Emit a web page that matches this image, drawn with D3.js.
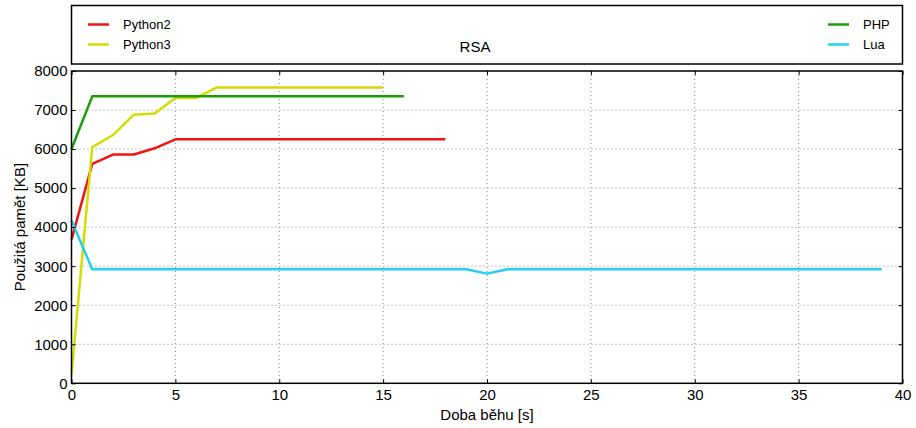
<!DOCTYPE html>
<html><head><meta charset="utf-8">
<script src="https://cdn.jsdelivr.net/npm/d3@7"></script>
<style>body{margin:0;background:#fff}svg{display:block}text{font-family:"Liberation Sans",Arial,sans-serif;fill:#000}</style>
</head><body><svg id="c" width="916" height="428"></svg>
<script>
const title = "RSA";
const xLabel = "Doba běhu [s]";
const yLabel = "Použitá pamět [KB]";
const xTicks = [0,5,10,15,20,25,30,35,40];
const yTicks = [0,1000,2000,3000,4000,5000,6000,7000,8000];

const python2X = [0,1,2,3,4,5,6,7,8,9,10,11,12,13,14,15,16,17,18];
const python2Y = [3680,5620,5860,5860,6020,6250,6250,6250,6250,6250,6250,6250,6250,6250,6250,6250,6250,6250,6250];
const python3X = [0,1,2,3,4,5,6,7,8,9,10,11,12,13,14,15];
const python3Y = [230,6050,6360,6880,6910,7310,7310,7580,7580,7580,7580,7580,7580,7580,7580,7580];
const phpX = [0,1,2,3,4,5,6,7,8,9,10,11,12,13,14,15,16];
const phpY = [6000,7350,7350,7350,7350,7350,7350,7350,7350,7350,7350,7350,7350,7350,7350,7350,7350];
const luaX = [0,1,2,3,4,5,6,7,8,9,10,11,12,13,14,15,16,17,18,19,20,21,22,23,24,25,26,27,28,29,30,31,32,33,34,35,36,37,38,39];
const luaY = [4170,2920,2920,2920,2920,2920,2920,2920,2920,2920,2920,2920,2920,2920,2920,2920,2920,2920,2920,2920,2810,2920,2920,2920,2920,2920,2920,2920,2920,2920,2920,2920,2920,2920,2920,2920,2920,2920,2920,2920];

const series = [
  {name:"Python2", x:python2X, y:python2Y, color:"#f01414"},
  {name:"Python3", x:python3X, y:python3Y, color:"#d4dc00"},
  {name:"PHP", x:phpX, y:phpY, color:"#1c9c0a"},
  {name:"Lua", x:luaX, y:luaY, color:"#22d0f0"}
];

const svg = d3.select("#c");
const L=71.5, R=902.5, T=71, B=383.3;
const x = d3.scaleLinear().domain([0,40]).range([L,R]);
const y = d3.scaleLinear().domain([0,8000]).range([B,T]);

// grid
const g = svg.append("g");
g.selectAll(".gx").data(xTicks.slice(1,-1)).join("line")
  .attr("x1",d=>x(d)).attr("x2",d=>x(d)).attr("y1",T).attr("y2",B)
  .attr("stroke","#888").attr("stroke-width",1).attr("stroke-dasharray","1,3");
g.selectAll(".gy").data(yTicks.slice(1,-1)).join("line")
  .attr("y1",d=>y(d)).attr("y2",d=>y(d)).attr("x1",L).attr("x2",R)
  .attr("stroke","#888").attr("stroke-width",1).attr("stroke-dasharray","1,3");

// lines
const line = d3.line().x(d=>x(d[0])).y(d=>y(d[1]));
series.forEach(s=>{
  svg.append("path").datum(s.x.map((v,i)=>[v,s.y[i]]))
    .attr("d",line).attr("fill","none").attr("stroke",s.color)
    .attr("stroke-width",2.5).attr("stroke-linejoin","round");
});

// axes
const fmt = d3.format("d");
const axB = svg.append("g").attr("transform",`translate(0,${B})`)
  .call(d3.axisBottom(x).tickValues(xTicks).tickFormat(fmt).tickSizeInner(-4).tickSizeOuter(0).tickPadding(6));
const axL = svg.append("g").attr("transform",`translate(${L},0)`)
  .call(d3.axisLeft(y).tickValues(yTicks).tickFormat(fmt).tickSizeInner(-4).tickSizeOuter(0).tickPadding(4));
const axT = svg.append("g").attr("transform",`translate(0,${T})`)
  .call(d3.axisTop(x).tickValues(xTicks).tickSizeInner(-4).tickSizeOuter(0).tickFormat(""));
const axR = svg.append("g").attr("transform",`translate(${R},0)`)
  .call(d3.axisRight(y).tickValues(yTicks).tickSizeInner(-4).tickSizeOuter(0).tickFormat(""));
[axB,axL,axT,axR].forEach(a=>{
  a.select(".domain").remove();
  a.selectAll("line").attr("stroke","#000");
  a.selectAll("text").attr("font-size",15).attr("font-family","Liberation Sans, Arial, sans-serif").attr("fill","#000");
});
svg.append("rect").attr("x",L).attr("y",T).attr("width",R-L).attr("height",B-T)
  .attr("fill","none").attr("stroke","#000").attr("stroke-width",1.5);

// axis labels
svg.append("text").attr("x",(L+R)/2).attr("y",420).attr("text-anchor","middle")
  .attr("font-size",15).text(xLabel);
svg.append("text").attr("transform",`translate(25,${(T+B)/2}) rotate(-90)`)
  .attr("text-anchor","middle").attr("font-size",15).text(yLabel);

// legend box
svg.append("rect").attr("x",L).attr("y",5.5).attr("width",R-L).attr("height",58.5)
  .attr("fill","none").attr("stroke","#000").attr("stroke-width",1.5);
svg.append("text").attr("x",475).attr("y",51.5).attr("text-anchor","middle")
  .attr("font-size",15).text(title);
const legPos = [
  {lx:88, ly:24.5}, {lx:88, ly:44.5}, {lx:828, ly:24.5}, {lx:828, ly:44.5}
];
series.forEach((s,i)=>{
  const p = legPos[i];
  svg.append("line").attr("x1",p.lx).attr("x2",p.lx+21).attr("y1",p.ly).attr("y2",p.ly)
    .attr("stroke",s.color).attr("stroke-width",2.5);
  svg.append("text").attr("x",p.lx+35).attr("y",p.ly+4.5).attr("font-size",13).text(s.name);
});
</script></body></html>
